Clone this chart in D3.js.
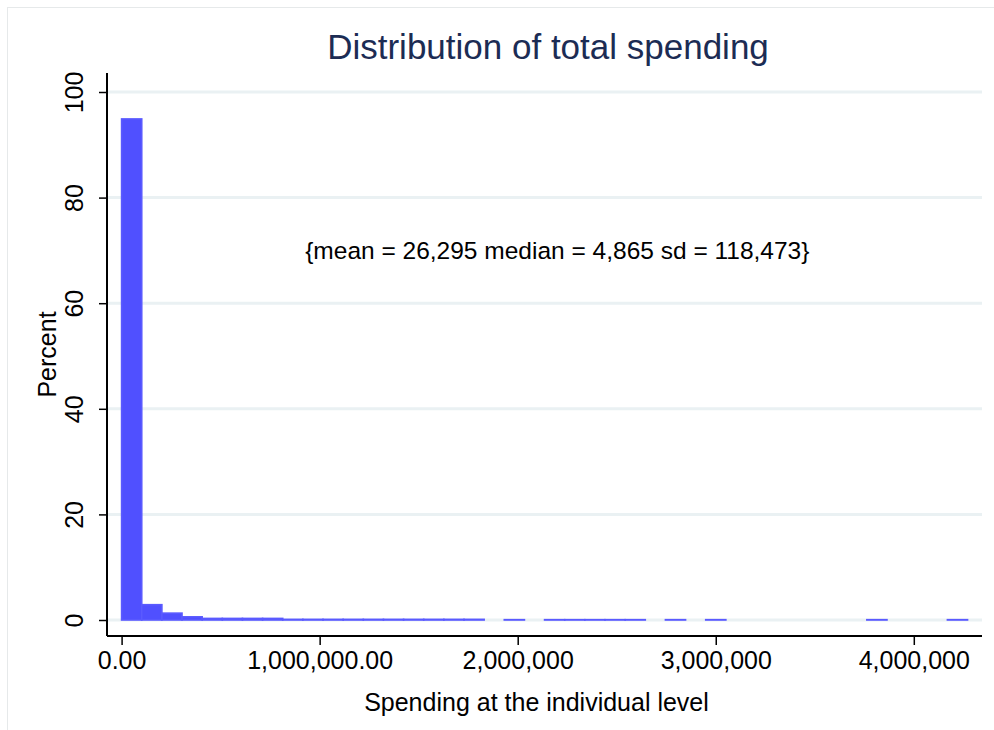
<!DOCTYPE html>
<html>
<head>
<meta charset="utf-8">
<script src="https://cdn.jsdelivr.net/npm/d3@7"></script>
<style>
  html, body { margin: 0; padding: 0; background: #ffffff; }
  svg { display: block; }
  text { font-family: "Liberation Sans", Arial, Helvetica, sans-serif; }
</style>
</head>
<body>
<svg id="chart" width="994" height="730"></svg>
<script>
// Histogram of spending per individual: bin width and percent in each bin
const binWidth = 101700;
const binPercents = [
  94.9, 2.9, 1.3, 0.6, 0.3, 0.3, 0.3, 0.3,
  0.12, 0.12, 0.12, 0.12, 0.12, 0.12, 0.12, 0.12, 0.12, 0.12,
  0, 0.06, 0, 0.06, 0.06, 0.06, 0.06, 0.06, 0, 0.06, 0, 0.06,
  0, 0, 0, 0, 0, 0, 0, 0.06, 0, 0, 0, 0.06
];
const xTickValues = [0, 1000000, 2000000, 3000000, 4000000];
const xTickLabels = ["0.00", "1,000,000.00", "2,000,000", "3,000,000", "4,000,000"];
const yTickValues = [0, 20, 40, 60, 80, 100];
const titleText = "Distribution of total spending";
const xTitle = "Spending at the individual level";
const yTitle = "Percent";
const noteText = "{mean = 26,295 median = 4,865 sd = 118,473}";
const notePos = { x: 2200000, y: 70 };

const bins = binPercents.map((p, i) => ({ x0: i * binWidth, x1: (i + 1) * binWidth, pct: p }));

const svg = d3.select("#chart");

// plot region
const plot = { left: 107, right: 982, top: 73, bottom: 636 };
const x = d3.scaleLinear().domain([0, 4000000]).range([121.6, 913.8]);
const y = d3.scaleLinear().domain([0, 100]).range([620, 92]);

// faint outer frame of the graph region
svg.append("rect")
  .attr("x", 7.5).attr("y", 7.5)
  .attr("width", 1000).attr("height", 740)
  .attr("fill", "none")
  .attr("stroke", "#e6e9ea")
  .attr("stroke-width", 1);

// horizontal grid lines
svg.append("g").selectAll("line")
  .data(yTickValues)
  .join("line")
  .attr("x1", plot.left + 1).attr("x2", plot.right)
  .attr("y1", d => y(d)).attr("y2", d => y(d))
  .attr("stroke", "#eaf1f3")
  .attr("stroke-width", 3);

// bars
svg.append("g").selectAll("rect")
  .data(bins.filter(b => b.pct > 0))
  .join("rect")
  .attr("x", d => x(d.x0))
  .attr("width", d => x(d.x1) - x(d.x0))
  .attr("y", d => y(d.pct))
  .attr("height", d => y(0) - y(d.pct))
  .attr("fill", "#5050ff")
  .attr("stroke", "#5a5aff")
  .attr("stroke-width", 1.6);

// y axis
const yAxis = d3.axisLeft(y).tickValues(yTickValues).tickSize(8).tickPadding(0).tickFormat(d3.format("d"));
const gy = svg.append("g").attr("transform", `translate(${plot.left},0)`).call(yAxis);
gy.select(".domain").attr("d", `M0,${plot.top}V${plot.bottom}`).attr("stroke", "#000").attr("stroke-width", 2);
gy.selectAll(".tick line").attr("stroke", "#000").attr("stroke-width", 1.5);
gy.selectAll(".tick text")
  .attr("font-size", 25)
  .attr("fill", "#000")
  .attr("text-anchor", "middle")
  .attr("transform", "translate(-33,0) rotate(-90)")
  .attr("x", 0).attr("dy", "0.36em")
  .attr("font-family", "'Liberation Sans', Arial, sans-serif");

// x axis
const xAxis = d3.axisBottom(x).tickValues(xTickValues).tickSize(9).tickPadding(6)
  .tickFormat((d, i) => xTickLabels[i]);
const gx = svg.append("g").attr("transform", `translate(0,${plot.bottom})`).call(xAxis);
gx.select(".domain").attr("d", `M${plot.left},0H${plot.right}`).attr("stroke", "#000").attr("stroke-width", 2);
gx.selectAll(".tick line").attr("stroke", "#000").attr("stroke-width", 1.5);
gx.selectAll(".tick text")
  .attr("font-size", 25)
  .attr("fill", "#000")
  .attr("font-family", "'Liberation Sans', Arial, sans-serif");

// titles
svg.append("text")
  .attr("x", 548).attr("y", 59)
  .attr("text-anchor", "middle")
  .attr("font-size", 35)
  .attr("fill", "#1c2c54")
  .text(titleText);

svg.append("text")
  .attr("x", (plot.left + plot.right) / 2 - 8).attr("y", 711)
  .attr("text-anchor", "middle")
  .attr("font-size", 25)
  .attr("fill", "#000")
  .text(xTitle);

svg.append("text")
  .attr("transform", `translate(56,${(plot.top + plot.bottom) / 2}) rotate(-90)`)
  .attr("text-anchor", "middle")
  .attr("font-size", 25)
  .attr("fill", "#000")
  .text(yTitle);

// summary statistics note
svg.append("text")
  .attr("x", x(notePos.x)).attr("y", y(notePos.y))
  .attr("dy", "0.36em")
  .attr("text-anchor", "middle")
  .attr("font-size", 24.5)
  .attr("fill", "#000")
  .text(noteText);
</script>
</body>
</html>
